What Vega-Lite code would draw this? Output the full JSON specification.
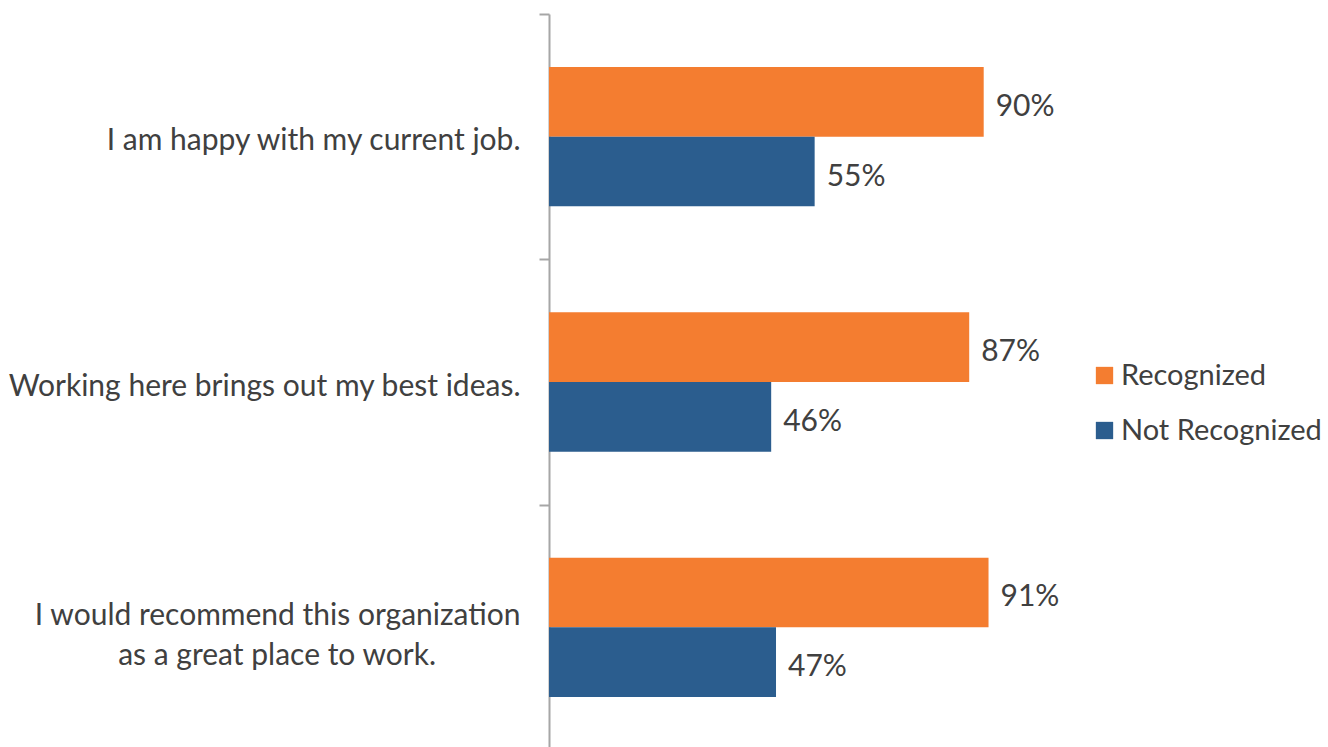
{
  "$schema": "https://vega.github.io/schema/vega-lite/v6.json",
  "width": 483,
  "height": 736,
  "autosize": {"type": "none"},
  "padding": {"left": 549, "top": 14, "right": 296, "bottom": 0},
  "background": "white",
  "config": {"view": {"stroke": null}, "font": "Lato"},
  "data": {
    "values": [
      {"statement": "I am happy with my current job.", "group": "Recognized", "pct": 0.90},
      {"statement": "I am happy with my current job.", "group": "Not Recognized", "pct": 0.55},
      {"statement": "Working here brings out my best ideas.", "group": "Recognized", "pct": 0.87},
      {"statement": "Working here brings out my best ideas.", "group": "Not Recognized", "pct": 0.46},
      {"statement": "I would recommend this organization as a great place to work.", "group": "Recognized", "pct": 0.91},
      {"statement": "I would recommend this organization as a great place to work.", "group": "Not Recognized", "pct": 0.47}
    ]
  },
  "encoding": {
    "y": {
      "field": "statement",
      "type": "nominal",
      "sort": null,
      "scale": {"paddingInner": 0, "paddingOuter": 0},
      "axis": {
        "title": null,
        "tickBand": "extent",
        "domainColor": "#A6A6A6",
        "domainWidth": 2,
        "tickColor": "#A6A6A6",
        "tickWidth": 2,
        "tickSize": 10,
        "labelFontSize": 30,
        "labelColor": "#404040",
        "labelPadding": 19,
        "labelLimit": 0,
        "labelLineHeight": 40,
        "labelAlign": "right",
        "labelOffset": {"condition": {"test": "datum.value == 'I would recommend this organization as a great place to work.'", "value": -12}, "value": 4},
        "labelExpr": "datum.value == 'I would recommend this organization as a great place to work.' ? ['I would recommend this organization', 'as a great place to work.\u00a0\u00a0\u00a0\u00a0\u00a0\u00a0\u00a0\u00a0\u00a0\u00a0\u00a0\u2060'] : datum.value"
      }
    },
    "yOffset": {
      "field": "group",
      "type": "nominal",
      "sort": ["Recognized", "Not Recognized"],
      "scale": {"paddingInner": 0, "paddingOuter": 0.76}
    },
    "x": {
      "field": "pct",
      "type": "quantitative",
      "scale": {"domain": [0, 1]},
      "axis": null
    }
  },
  "layer": [
    {
      "mark": {"type": "bar"},
      "encoding": {
        "color": {
          "field": "group",
          "type": "nominal",
          "sort": ["Recognized", "Not Recognized"],
          "scale": {"domain": ["Recognized", "Not Recognized"], "range": ["#F47D30", "#2B5D8E"]},
          "legend": {
            "title": null,
            "orient": "none",
            "legendX": 541,
            "legendY": 347,
            "symbolType": "square",
            "symbolSize": 300,
            "symbolStrokeWidth": 0,
            "labelFontSize": 29,
            "labelColor": "#404040",
            "labelOffset": 2,
            "labelLimit": 0,
            "rowPadding": 25
          }
        }
      }
    },
    {
      "mark": {"type": "text", "align": "left", "dx": 12, "dy": 5, "fontSize": 30, "color": "#404040"},
      "encoding": {
        "text": {"field": "pct", "type": "quantitative", "format": ".0%"}
      }
    }
  ]
}
